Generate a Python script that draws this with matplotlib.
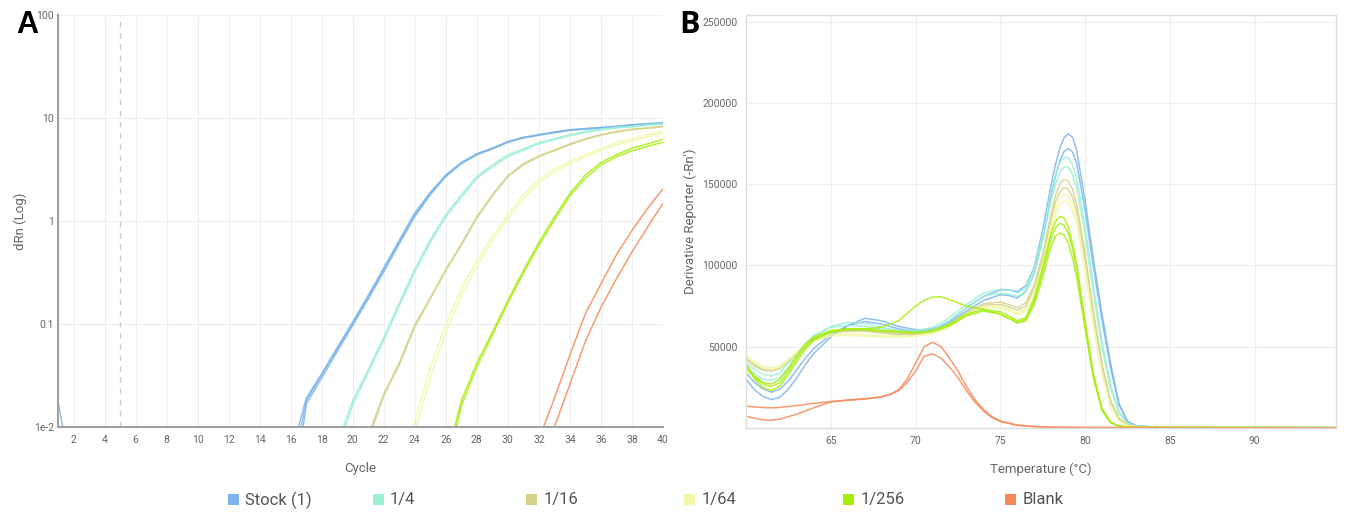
import numpy as np
import matplotlib
matplotlib.use("Agg")
import matplotlib.pyplot as plt
import matplotlib.ticker as mticker
from matplotlib.patches import Rectangle

plt.rcParams['font.family'] = ['Roboto', 'DejaVu Sans']

samples = ["Stock (1)", "1/4", "1/16", "1/64", "1/256", "Blank"]
colors = ['#7cb5ec', '#9cefd5', '#d6d28c', '#f1f7a6', '#a6ee10', '#f6895a']

# ---- panel A: amplification plot (dRn per cycle, replicates) ----
stock_cycles = list(range(16, 41))
stock_rep1 = [0.0052, 0.019, 0.033, 0.059, 0.105, 0.19, 0.35, 0.65, 1.2, 1.9, 2.8, 3.7, 4.5,
              5.1, 5.9, 6.5, 6.9, 7.3, 7.7, 7.9, 8.1, 8.3, 8.6, 8.8, 9.0]
stock_rep2 = [0.0013, 0.0166, 0.030, 0.054, 0.097, 0.175, 0.32, 0.60, 1.1, 1.8, 2.7, 3.6, 4.4,
              5.0, 5.8, 6.4, 6.8, 7.2, 7.6, 7.8, 8.0, 8.2, 8.5, 8.7, 8.9]
stock_rep3 = [0.003, 0.018, 0.032, 0.057, 0.10, 0.18, 0.34, 0.63, 1.15, 1.85, 2.75, 3.65, 4.45,
              5.05, 5.85, 6.45, 6.85, 7.25, 7.65, 7.85, 8.05, 8.25, 8.55, 8.75, 8.95]
stock_early_cycles = [1, 2]
stock_early = [0.018, 0.0025]

q4_cycles = list(range(19, 41))
q4_rep1 = [0.0068, 0.018, 0.036, 0.074, 0.16, 0.34, 0.66, 1.15, 1.8, 2.7, 3.5, 4.4, 5.0, 5.8,
           6.3, 6.9, 7.4, 7.8, 8.1, 8.3, 8.6, 8.8]
q4_rep2 = [0.0055, 0.0165, 0.034, 0.070, 0.15, 0.32, 0.62, 1.1, 1.7, 2.6, 3.35, 4.2, 4.85, 5.6,
           6.15, 6.75, 7.25, 7.65, 8.0, 8.2, 8.5, 8.7]

q16_cycles = list(range(21, 41))
q16_rep1 = [0.0083, 0.021, 0.042, 0.098, 0.18, 0.34, 0.60, 1.1, 1.8, 2.75, 3.6, 4.3, 4.9, 5.6,
            6.3, 6.9, 7.4, 7.8, 8.0, 8.3]
q16_rep2 = [0.0075, 0.020, 0.040, 0.094, 0.175, 0.33, 0.58, 1.07, 1.75, 2.7, 3.5, 4.2, 4.8, 5.5,
            6.2, 6.8, 7.3, 7.7, 7.95, 8.2]

q64_cycles = list(range(23, 41))
q64_rep1 = [0.0032, 0.0112, 0.038, 0.10, 0.22, 0.41, 0.71, 1.15, 1.8, 2.5, 3.2, 3.8, 4.4, 5.0,
            5.8, 6.3, 6.9, 7.4]
q64_rep2 = [0.0025, 0.0089, 0.030, 0.083, 0.19, 0.36, 0.65, 1.05, 1.65, 2.35, 3.0, 3.6, 4.2, 4.8,
            5.5, 6.0, 6.6, 7.1]

q256_cycles = list(range(26, 41))
q256_rep1 = [0.0045, 0.018, 0.042, 0.083, 0.17, 0.33, 0.62, 1.1, 1.85, 2.8, 3.7, 4.4, 5.1, 5.6, 6.2]
q256_rep2 = [0.0035, 0.016, 0.038, 0.078, 0.16, 0.31, 0.58, 1.02, 1.75, 2.6, 3.5, 4.2, 4.8, 5.3, 5.8]

blank_cycles = list(range(32, 41))
blank_rep1 = [0.0076, 0.019, 0.05, 0.126, 0.245, 0.47, 0.81, 1.32, 2.05]
blank_rep2 = [0.003, 0.010, 0.026, 0.068, 0.145, 0.275, 0.50, 0.87, 1.48]

threshold_cycle = 5

# ---- panel B: melt curve (derivative reporter, in thousands) ----
temps = [60, 60.5, 61, 61.5, 62, 62.5, 63, 63.5, 64, 65,
         66, 67, 68, 69, 70, 70.5, 71, 71.5, 72, 73,
         74, 75, 75.5, 76, 76.5, 77, 77.5, 78, 78.25, 78.5,
         78.75, 79, 79.25, 79.5, 80, 80.5, 81, 81.5, 82, 82.5,
         83, 84, 85, 88, 95]
melt_stock1 = [30, 23.5, 19.5, 17.5, 19, 24, 31, 39, 46, 56,
               63, 67.5, 66, 62.5, 60.5, 60.5, 61, 63, 66, 74,
               81, 85, 85, 84, 87.5, 99, 122, 150, 162, 172,
               178.5, 181, 179, 171, 140, 103, 70, 40, 15, 4,
               1.5, 0.6, 0.4, 0.3, 0.2]
melt_stock2 = [34, 28, 24, 22, 24, 29, 36, 43, 49, 57.5,
               63, 65.5, 64, 61, 59.5, 59.8, 60.5, 62.5, 65, 72,
               78.5, 82, 81.5, 80, 84, 95, 117, 143, 155, 164,
               170, 172, 170, 163, 134, 98, 66, 37, 14, 4,
               1.4, 0.6, 0.4, 0.3, 0.2]
melt_q4_1 = [38, 33.5, 30, 29.5, 31, 37, 44, 50.5, 56, 62.5,
             65, 64.5, 62, 60, 60, 60.8, 62, 64.5, 68, 76,
             83, 85.5, 85, 83, 86, 98, 119, 145, 156, 163,
             166.5, 166.5, 162, 154, 124, 87, 53, 27, 10, 3,
             1.1, 0.6, 0.4, 0.3, 0.2]
melt_q4_2 = [40, 36, 33, 32, 34, 40, 46, 52, 57, 62,
             63, 62.5, 61, 59.5, 59, 59.6, 60.5, 63, 66, 74,
             81, 83, 82.5, 81, 84, 95, 115, 140, 150, 157,
             160.5, 160.5, 156, 148, 119, 82, 49, 24, 9, 2.7,
             1, 0.6, 0.4, 0.3, 0.2]
melt_q16_1 = [42, 38, 35.5, 35, 36.5, 41, 46, 51, 55, 59,
              60, 60, 59, 58, 58, 58.6, 59.5, 61.5, 64, 71,
              76.5, 77.5, 76, 74, 77, 88, 107, 132, 143, 150,
              153, 152, 147, 138, 107, 71, 39, 17, 6, 2,
              0.9, 0.5, 0.4, 0.3, 0.2]
melt_q16_2 = [43, 39, 36, 35.5, 37, 41.5, 46.5, 51, 55, 58.5,
              59.5, 59.5, 58.5, 57.5, 57.5, 58, 59, 60.8, 63, 70,
              75.5, 76, 74.5, 72.5, 75, 86, 104, 128, 139, 145,
              148, 147, 142, 134, 104, 69, 38, 16, 5.5, 2,
              0.9, 0.5, 0.4, 0.3, 0.2]
melt_q64_1 = [44, 40, 37, 36, 37.5, 41.5, 46, 50.5, 54, 57.5,
              58, 57.5, 57, 56.5, 57, 57.6, 58.5, 60.5, 63, 70,
              75, 75, 73, 71, 73, 83, 101, 125, 135, 141,
              144, 143, 138, 130, 99, 64, 34, 14, 4.5, 1.6,
              0.8, 0.5, 0.4, 0.3, 0.2]
melt_q64_2 = [45, 41, 38, 37, 38.5, 42.5, 46.5, 50.5, 53.5, 56.5,
              57, 56.5, 56, 56, 56.5, 57, 58, 59.8, 62, 69,
              74, 74, 72, 70, 72, 81, 98, 121, 131, 137,
              140, 139, 134, 126, 96, 62, 33, 13, 4.3, 1.5,
              0.8, 0.5, 0.4, 0.3, 0.2]
melt_q256_1 = [37, 31, 27, 25.5, 28, 35, 43, 50, 55, 59.5,
               61, 61, 60, 59.5, 59, 59.3, 60, 61.8, 64, 70,
               73, 71.5, 69, 66, 68, 80, 99, 120, 127, 130,
               129.5, 124, 114, 101, 66, 33, 12, 3.5, 1.2, 0.7,
               0.5, 0.4, 0.3, 0.3, 0.2]
melt_q256_2 = [40, 30, 25, 23, 26, 33, 41, 48.5, 54, 59,
               60.5, 60.5, 59.5, 59, 58.5, 58.8, 59.5, 61, 63, 69,
               72, 70, 67.5, 64.5, 66, 76, 93, 112, 118, 120,
               119, 114, 105, 93, 61, 30, 11, 3.3, 1.1, 0.7,
               0.5, 0.4, 0.3, 0.3, 0.2]
melt_q256_3 = [38, 32, 28, 27, 30, 37, 45, 51.5, 56, 60,
               61, 61, 62, 66, 75, 78.5, 80.5, 80.8, 79, 75,
               73, 70, 67.5, 65, 67, 78, 96, 117, 123, 126,
               125, 120, 111, 98, 63, 31, 11, 3.4, 1.1, 0.7,
               0.5, 0.4, 0.3, 0.3, 0.2]

temps_blank = [60, 61, 61.5, 62, 63, 64, 65, 66, 67, 68, 68.5, 69, 69.5, 70, 70.5, 71, 71.5, 72,
               72.5, 73, 73.5, 74, 74.5, 75, 76, 77, 78, 80, 85, 95]
melt_blank1 = [13.4, 12.6, 12.4, 12.7, 13.8, 15.2, 16.3, 17.1, 17.8, 19.2, 20.8, 23.5, 30, 40, 50,
               52.8, 50, 43, 35, 25.5, 17.5, 11.5, 7, 4.3, 1.8, 0.9, 0.5, 0.3, 0.2, 0.1]
melt_blank2 = [7.2, 5, 4.8, 5.5, 8.5, 12.5, 16, 17.3, 18, 19.2, 20.6, 23, 28, 35, 44,
               45.7, 43, 37.5, 31, 23, 16, 10.5, 6.5, 4, 1.7, 0.9, 0.5, 0.3, 0.2, 0.1]

amp = [
    (stock_cycles, [stock_rep1, stock_rep2, stock_rep3]),
    (q4_cycles, [q4_rep1, q4_rep2]),
    (q16_cycles, [q16_rep1, q16_rep2]),
    (q64_cycles, [q64_rep1, q64_rep2]),
    (q256_cycles, [q256_rep1, q256_rep2]),
    (blank_cycles, [blank_rep1, blank_rep2]),
]
melt = [
    (temps, [melt_stock1, melt_stock2]),
    (temps, [melt_q4_1, melt_q4_2]),
    (temps, [melt_q16_1, melt_q16_2]),
    (temps, [melt_q64_1, melt_q64_2]),
    (temps, [melt_q256_1, melt_q256_2, melt_q256_3]),
    (temps_blank, [melt_blank1, melt_blank2]),
]

text_gray = '#666666'
fig = plt.figure(figsize=(13.55, 5.18), dpi=100)

# Panel A
ax1 = fig.add_axes([0.0428, 0.1757, 0.4465, 0.7954])
for (cyc, reps), col in zip(amp, colors):
    for r in reps:
        ax1.plot(cyc, r, color=col, lw=1.1, alpha=0.85)
ax1.plot(stock_early_cycles, stock_early, color=colors[0], lw=1.1, alpha=0.85)
ax1.axvline(threshold_cycle, color='#cccccc', lw=1, ls=(0, (4, 4)))
ax1.set_yscale('log')
ax1.set_xlim(1, 40)
ax1.set_ylim(0.01, 100)
ax1.set_xticks(range(2, 41, 2))
ax1.set_yticks([0.01, 0.1, 1, 10, 100])
ax1.yaxis.set_major_formatter(mticker.FixedFormatter(["1e-2", "0.1", "1", "10", "100"]))
ax1.yaxis.set_minor_locator(mticker.NullLocator())
ax1.grid(color='#eeeeee', lw=0.8)
ax1.set_axisbelow(True)
for s in ['top', 'right']:
    ax1.spines[s].set_visible(False)
for s in ['left', 'bottom']:
    ax1.spines[s].set_color('#a0a0a0')
    ax1.spines[s].set_linewidth(1.5)
ax1.tick_params(length=0, labelsize=7.5, labelcolor=text_gray)
ax1.tick_params(axis='x', pad=6)
ax1.tick_params(axis='y', pad=3)
ax1.set_xlabel("Cycle", fontsize=9.5, color=text_gray, labelpad=12)
ax1.set_ylabel("dRn (Log)", fontsize=9.5, color=text_gray, labelpad=5)

# Panel B
ax2 = fig.add_axes([0.5506, 0.1737, 0.4354, 0.797])
for (tt, reps), col in zip(melt, colors):
    for r in reps:
        ax2.plot(tt, np.array(r) * 1000, color=col, lw=1.1, alpha=0.85)
ax2.set_xlim(60, 94.8)
ax2.set_ylim(0, 254000)
ax2.set_xticks(range(65, 91, 5))
ax2.set_yticks(range(50000, 250001, 50000))
ax2.yaxis.set_major_formatter(mticker.FuncFormatter(lambda v, p: f"{int(v)}"))
ax2.grid(color='#eeeeee', lw=0.8)
ax2.set_axisbelow(True)
for s in ax2.spines.values():
    s.set_color('#dddddd')
    s.set_linewidth(1)
ax2.tick_params(length=0, labelsize=7.5, labelcolor=text_gray)
ax2.tick_params(axis='x', pad=6)
ax2.tick_params(axis='y', pad=6)
ax2.set_xlabel("Temperature (°C)", fontsize=9.5, color=text_gray, labelpad=12)
ax2.set_ylabel("Derivative Reporter (-Rn')", fontsize=9.5, color=text_gray, labelpad=4)

# panel letters
fig.text(0.02, 0.952, "A", fontsize=22, fontweight='bold', family='Liberation Sans',
         ha='center', va='center')
fig.text(0.509, 0.952, "B", fontsize=22, fontweight='bold', family='Open Sans',
         ha='center', va='center')

# legend along the bottom
legend_x = [0.172, 0.279, 0.392, 0.509, 0.626, 0.746]
pw, ph = 11 / 1355, 11 / 518
for lx, name, col in zip(legend_x, samples, colors):
    fig.add_artist(Rectangle((lx - pw / 2, 0.035 - ph / 2), pw, ph, transform=fig.transFigure,
                             facecolor=col, edgecolor='none'))
    fig.text(lx + 12 / 1355, 0.035, name, fontsize=12, color='#555555', ha='left', va='center')

fig.savefig("out.png", dpi=100)
